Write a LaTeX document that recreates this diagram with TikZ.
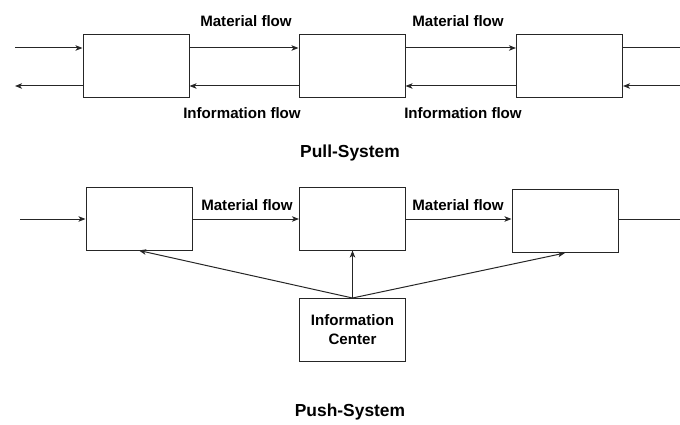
\documentclass[tikz,border=0pt]{standalone}
\usepackage{fontspec}
\setmainfont{Liberation Sans}
\usetikzlibrary{arrows.meta,calc}
\begin{document}
\begin{tikzpicture}[x=1pt,y=-1pt,
  stage/.style={draw=black!85,line width=1pt,minimum width=106pt,minimum height=63pt,inner sep=0pt},
  flow/.style={draw=black!85,line width=1pt,-{Stealth[length=7pt,width=5.5pt,inset=1.8pt]}},
  plain/.style={draw=black!85,line width=1pt},
  lbl/.style={font=\fontsize{15.1}{17}\selectfont\bfseries,inner sep=0pt},
  title/.style={font=\fontsize{17.4}{20}\selectfont\bfseries,inner sep=0pt}]
\useasboundingbox (0,0) rectangle (680,425);

% Pull system
\node[stage] (t1) at (136,66.5) {};
\node[stage] (t2) at (352,66.5) {};
\node[stage] (t3) at (569.5,66.5) {};
\coordinate (pin) at (15,48);
\coordinate (pout) at (15,86);
\coordinate (pmr) at (680,48);
\coordinate (pir) at (680,86);

\draw[flow] (pin) -- ([yshift=18.5pt]t1.west);
\draw[flow] ([yshift=18.5pt]t1.east) -- ([yshift=18.5pt]t2.west);
\draw[flow] ([yshift=18.5pt]t2.east) -- ([yshift=18.5pt]t3.west);
\draw[plain] ([yshift=18.5pt]t3.east) -- (pmr);
\draw[flow] (pir) -- ([yshift=-19.5pt]t3.east);
\draw[flow] ([yshift=-19.5pt]t3.west) -- ([yshift=-19.5pt]t2.east);
\draw[flow] ([yshift=-19.5pt]t2.west) -- ([yshift=-19.5pt]t1.east);
\draw[flow] ([yshift=-19.5pt]t1.west) -- (pout);

\node[lbl] (m1) at (246,21) {Material flow};
\node[lbl] (m2) at (458,21) {Material flow};
\node[lbl] (i1) at (242,113) {Information flow};
\node[lbl] (i2) at (463,113) {Information flow};
\node[title] (pull) at (350,153) {Pull-System};

% Push system
\node[stage] (b1) at (139,218.5) {};
\node[stage] (b2) at (352.5,218.5) {};
\node[stage] (b3) at (565,221) {};
\node[stage,align=center,lbl,inner sep=0pt] (ic) at (352.5,330) {Information\\[2pt]Center};
\coordinate (qin) at (20,219);
\coordinate (qout) at (680,219);

\draw[flow] (qin) -- (b1.west |- qin);
\draw[flow] (b1.east |- qin) -- (b2.west |- qin);
\draw[flow] (b2.east |- qin) -- (b3.west |- qin);
\draw[plain] (b3.east |- qin) -- (qout);

\draw[flow] (ic.north) -- (b1.south);
\draw[flow] (ic.north) -- (b2.south);
\draw[flow] (ic.north) -- (b3.south);

\node[lbl] (m3) at (247,205) {Material flow};
\node[lbl] (m4) at (458,205) {Material flow};
\node[title] (push) at (350,412) {Push-System};
\end{tikzpicture}
\end{document}
